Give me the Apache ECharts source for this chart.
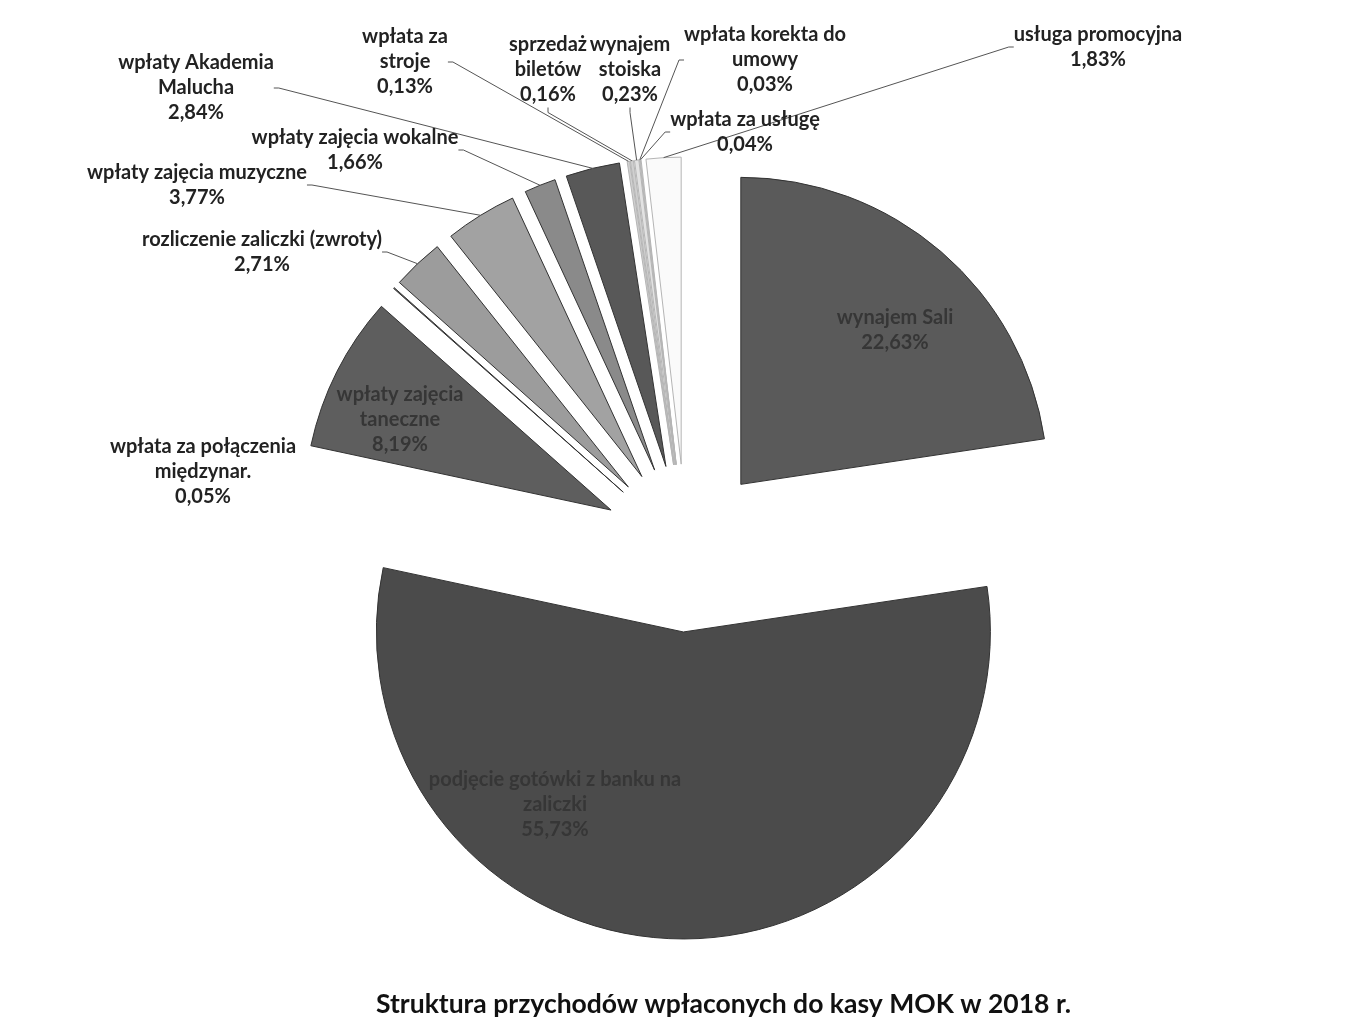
<!DOCTYPE html>
<html lang="pl">
<head>
    <meta charset="UTF-8">
    <title>Struktura przychodów</title>
    <script src="https://cdn.jsdelivr.net/npm/echarts@6/dist/echarts.min.js"></script>
    <style>
        html, body { margin: 0; padding: 0; background: #ffffff; }
        #main { width: 1354px; height: 1023px; }
    </style>
</head>
<body>
<div id="main"></div>

<script type="text/javascript">
    // kategorie i udziały (%)
    var names = [
        'wynajem Sali',
        'podjęcie gotówki z banku na\nzaliczki',
        'wpłaty zajęcia\ntaneczne',
        'wpłata za połączenia\nmiędzynar.',
        'rozliczenie zaliczki (zwroty)',
        'wpłaty zajęcia muzyczne',
        'wpłaty zajęcia wokalne',
        'wpłaty Akademia\nMalucha',
        'wpłata za\nstroje',
        'sprzedaż\nbiletów',
        'wynajem\nstoiska',
        'wpłata korekta do\numowy',
        'wpłata za usługę',
        'usługa promocyjna'
    ];
    var values = [22.63, 55.73, 8.19, 0.05, 2.71, 3.77, 1.66, 2.84, 0.13, 0.16, 0.23, 0.03, 0.04, 1.83];

    var colors = ['#5a5a5a', '#4b4b4b', '#5e5e5e', '#777777', '#9c9c9c', '#a2a2a2', '#8a8a8a',
        '#585858', '#d0d0d0', '#cfcfcf', '#e2e2e2', '#f2f2f2', '#f4f4f4', '#fafafa'];
    var inside = [0, 1, 2];
    // środki etykiet (px)
    var labelAt = {
        0: [895, 330], 1: [555, 805], 2: [400, 420],
        3: [203, 472], 4: [262, 252], 5: [197, 185], 6: [355, 150],
        7: [196, 88], 8: [405, 62], 9: [548, 70], 10: [630, 70],
        11: [765, 60], 12: [745, 132], 13: [1098, 47]
    };

    function fmt(v) {
        return v.toFixed(2).replace('.', ',') + '%';
    }

    var CENTER = [686, 548];
    var R = 307;
    var OFFSET = 84;

    // wycinki (rozsunięte)
    var sliceData = names.map(function (n, i) {
        return {
            name: n,
            value: values[i],
            selected: true,
            itemStyle: {
                color: colors[i],
                borderColor: i >= 8 ? '#b5b5b5' : '#333333',
                borderWidth: 1
            }
        };
    });

    // etykiety: niewidoczne koło o promieniu R + OFFSET
    var labelData = names.map(function (n, i) {
        var isIn = inside.indexOf(i) >= 0;
        return {
            name: n,
            value: values[i],
            label: {
                position: isIn ? 'inside' : 'outside',
                color: isIn ? '#363636' : '#222222'
            },
            labelLine: {show: !isIn && i !== 3}
        };
    });

    var myChart = echarts.init(document.getElementById('main'));

    var option = {
        backgroundColor: '#ffffff',
        animation: false,
        title: {
            text: 'Struktura przychodów wpłaconych do kasy MOK w 2018 r.',
            left: 371,
            top: 986,
            textStyle: {
                fontFamily: 'Lato',
                fontWeight: 'bold',
                fontSize: 26.5,
                color: '#111111'
            }
        },
        series: [{
            type: 'pie',
            z: 1,
            center: CENTER,
            radius: R,
            startAngle: 90,
            clockwise: true,
            selectedMode: 'multiple',
            selectedOffset: OFFSET,
            silent: true,
            label: {show: false},
            labelLine: {show: false},
            data: sliceData
        }, {
            type: 'pie',
            z: 5,
            center: CENTER,
            radius: R + OFFSET,
            startAngle: 90,
            clockwise: true,
            silent: true,
            avoidLabelOverlap: false,
            itemStyle: {color: 'rgba(0,0,0,0)', borderWidth: 0},
            label: {
                formatter: function (p) {
                    return p.name + '\n' + fmt(p.value);
                },
                fontFamily: 'Lato',
                fontWeight: 'bold',
                fontSize: 20,
                lineHeight: 25,
                align: 'center'
            },
            labelLine: {
                length: 5,
                length2: 5,
                lineStyle: {color: '#555555', width: 1}
            },
            labelLayout: function (p) {
                var pos = labelAt[p.dataIndex];
                return {
                    x: pos[0],
                    y: pos[1],
                    align: 'center',
                    verticalAlign: 'middle'
                };
            },
            data: labelData
        }]
    };

    myChart.setOption(option);
</script>
</body>
</html>
